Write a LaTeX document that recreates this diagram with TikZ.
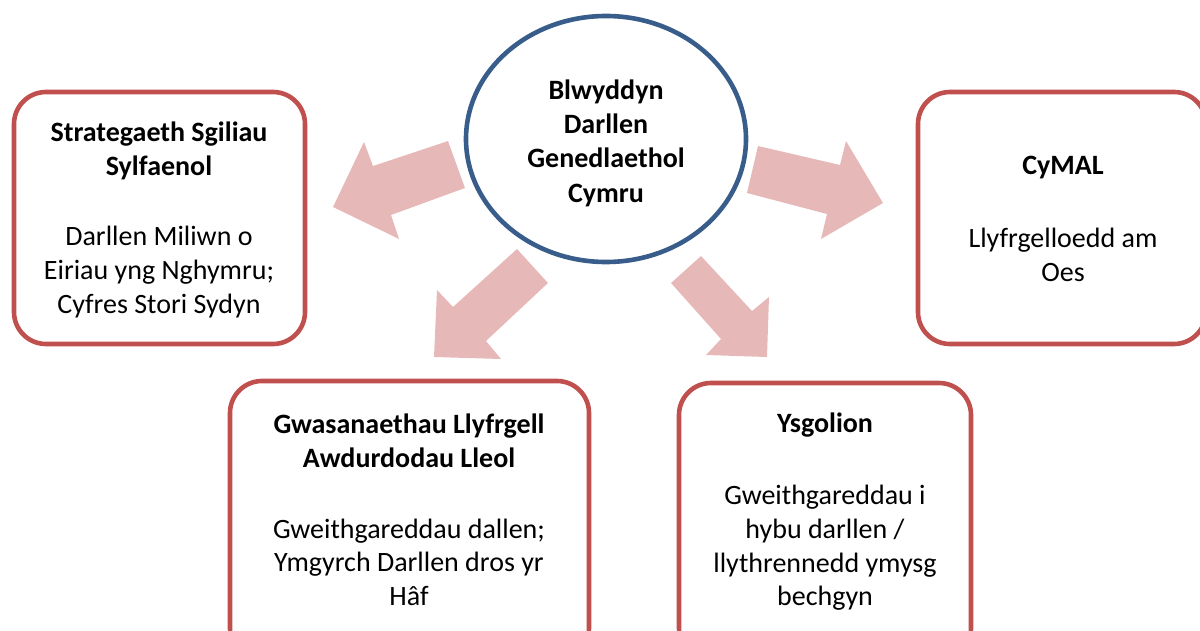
\documentclass[tikz,border=0pt]{standalone}
\usepackage{fontspec}
\setmainfont{Carlito}
\definecolor{boxred}{HTML}{C0504D}
\definecolor{ringblue}{HTML}{385D8A}
\definecolor{arrowpink}{HTML}{E6B9B8}
\begin{document}
\begin{tikzpicture}[x=0.5pt,y=-0.5pt,
  box/.style={draw=boxred,line width=2.3pt,rounded corners=16pt,fill=white},
  ring/.style={draw=ringblue,line width=2.3pt,fill=white},
  blockarrow/.style={fill=arrowpink,draw=none},
  txt/.style={align=center,inner sep=0pt,font=\fontsize{14}{16.8}\selectfont},
  ttl/.style={txt,font=\fontsize{14}{17.2}\selectfont\bfseries}]
\useasboundingbox (0,0) rectangle (1200,631);
\begin{scope}
\clip (0,0) rectangle (1200,631);
% block arrows
\fill[blockarrow] (448,141) -- (373,166) -- (364,142) -- (333,207) -- (399,239) -- (391,215) -- (465,188) -- cycle;
\fill[blockarrow] (758,146) -- (840,165) -- (846,141) -- (883,203) -- (821,239) -- (827,214) -- (747,193) -- cycle;
\fill[blockarrow] (517,249) -- (453,307) -- (437,290) -- (434,357) -- (501,359) -- (486,341) -- (548,283) -- cycle;
\fill[blockarrow] (701,256) -- (752,311) -- (769,297) -- (767,357) -- (706,355) -- (721,339) -- (671,283) -- cycle;
% boxes
\draw[box] (14,92) rectangle (305,344);
\draw[box] (918,92) rectangle (1206,344);
\draw[box] (230,381) rectangle (589,660);
\draw[box] (679,383) rectangle (971,660);
% centre ellipse
\draw[ring] (606,139) ellipse [x radius=140,y radius=123];
\end{scope}
% texts
\node[ttl] (c) at (606,143) {Blwyddyn\\Darllen\\Genedlaethol\\Cymru};
\node[ttl] (t1) at (159,151) {Strategaeth Sgiliau\\Sylfaenol};
\node[txt] (b1) at (159,272) {Darllen Miliwn o\\Eiriau yng Nghymru;\\Cyfres Stori Sydyn};
\node[ttl] (t2) at (1063,168) {CyMAL};
\node[txt] (b2) at (1063,255) {Llyfrgelloedd am\\Oes};
\node[ttl] (t3) at (409,441) {Gwasanaethau Llyfrgell\\Awdurdodau Lleol};
\node[txt] (b3) at (409,562) {Gweithgareddau dallen;\\Ymgyrch Darllen dros yr\\Hâf};
\node[ttl] (t4) at (825,425) {Ysgolion};
\node[txt] (b4) at (825,548) {Gweithgareddau i\\hybu darllen /\\llythrennedd ymysg\\bechgyn};
\end{tikzpicture}
\end{document}
